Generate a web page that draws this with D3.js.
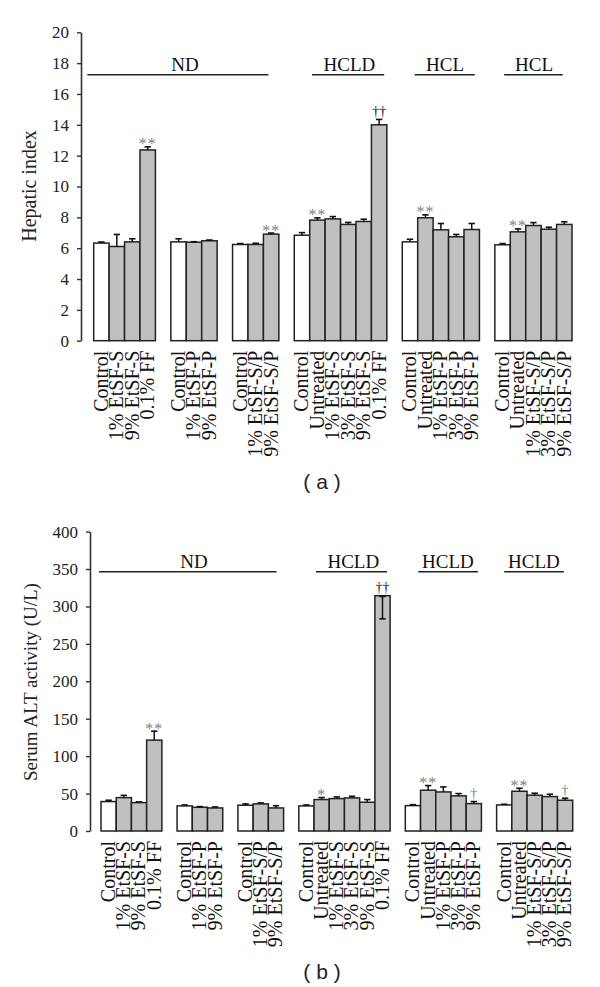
<!DOCTYPE html>
<html><head><meta charset="utf-8">
<script src="https://cdn.jsdelivr.net/npm/d3@7"></script>
<style>body{margin:0;background:#fff}svg{display:block}</style>
</head><body>
<svg id="c" width="600" height="987"></svg>
<script>
// ---------- data ----------
const groups = [
  ["Control","1% EtSF-S","9% EtSF-S","0.1% FF"],
  ["Control","1% EtSF-P","9% EtSF-P"],
  ["Control","1% EtSF-S/P","9% EtSF-S/P"],
  ["Control","Untreated","1% EtSF-S","3% EtSF-S","9% EtSF-S","0.1% FF"],
  ["Control","Untreated","1% EtSF-P","3% EtSF-P","9% EtSF-P"],
  ["Control","Untreated","1% EtSF-S/P","3% EtSF-S/P","9% EtSF-S/P"]
];
// (a) Hepatic index
const hepaticMean = [6.33,6.11,6.41,12.37, 6.41,6.39,6.48, 6.24,6.24,6.91, 6.84,7.82,7.90,7.54,7.73,14.0, 6.41,7.97,7.19,6.74,7.21, 6.22,7.06,7.47,7.23,7.54];
const hepaticErr  = [0.07,0.78,0.2,0.2, 0.2,0.03,0.05, 0.06,0.08,0.07, 0.17,0.15,0.15,0.13,0.15,0.35, 0.17,0.19,0.41,0.15,0.39, 0.08,0.19,0.19,0.13,0.17];
const hepaticSig  = ["","","","**", "","","", "","","**", "","**","","","","††", "","**","","","", "","**","","",""];
const hepaticTicks = [0,2,4,6,8,10,12,14,16,18,20];
const hepaticBrackets = [["ND",-0.41,11.32,5.92],["HCLD",14.15,18.83,16.57],["HCL",20.8,24.7,22.77],["HCL",26.6,30.4,28.54]];
// (b) Serum ALT activity (negative error = whisker drawn downward, as in the picture)
const altMean = [39.3,44.6,37.9,121.4, 33.5,31.7,30.8, 34.4,36.2,30.8, 33.5,42.0,43.3,44.2,38.4,314.4, 33.9,54.5,52.2,46.9,36.6, 34.8,53.1,47.8,46.0,41.1];
const altErr  = [1.8,3,1,12, 1.3,0.9,1.3, 1.8,1.3,3, 1.3,2.7,2.2,2.2,3.6,-31, 1.3,6.2,6.7,3.1,2.7, 0.9,4,2.7,3.1,2.7];
const altSig  = ["","","","**", "","","", "","","", "","*","","","","††", "","**","","","†", "","**","","","†"];
const altTicks = [0,50,100,150,200,250,300,350,400];
const altBrackets = [["ND",-0.13,11.54,6.11],["HCLD",14.13,18.79,16.58],["HCLD",20.85,24.77,22.8],["HCLD",26.5,30.42,28.45]];

// ---------- drawing ----------
const svg = d3.select("#c");
const SERIF = "'Liberation Serif','Times New Roman',serif";

// build slot list (one empty slot between groups)
const bars = [];
let slot = 0;
groups.forEach((g, gi) => {
  g.forEach((name, i) => bars.push({name, slot: slot + i, first: i === 0, gi}));
  slot += g.length + 1;
});
const nSlots = slot - 1; // 31

function panel(o) {
  const g = svg.append("g");
  const data = bars.map((b, i) => ({...b, v: o.mean[i], e: o.err[i], s: o.sig[i]}));
  const x = d3.scaleBand().domain(d3.range(nSlots)).range([o.x0, o.x1]).paddingInner(0).paddingOuter(0);
  const xs = d3.scaleLinear().domain([0, nSlots]).range([o.x0, o.x1]);
  const y = d3.scaleLinear().domain([0, o.ticks[o.ticks.length-1]]).range([o.yb, o.yt]);

  // axis
  const ax = g.append("g").attr("transform", `translate(${o.axisX},0)`)
    .call(d3.axisLeft(y).tickValues(o.ticks).tickSize(4).tickSizeOuter(0).tickPadding(8));
  ax.attr("font-family", SERIF).attr("font-size", 17);
  ax.select(".domain").attr("stroke", "#333").attr("stroke-width", 1.6);
  ax.selectAll(".tick line").attr("stroke", "#333").attr("stroke-width", 1.4);
  ax.selectAll(".tick text").attr("font-family", SERIF).attr("font-size", 17).attr("fill", "#222");

  // title
  g.append("text").attr("transform", `translate(${o.titleX},${o.titleY}) rotate(-90)`)
    .attr("text-anchor", "middle").attr("font-family", SERIF).attr("font-size", o.titleSize)
    .attr("fill", "#222").text(o.title);

  // bars
  g.selectAll("rect.bar").data(data).join("rect")
    .attr("x", d => x(d.slot)).attr("width", x.bandwidth())
    .attr("y", d => y(d.v)).attr("height", d => y(0) - y(d.v))
    .attr("fill", d => d.first ? "#fff" : "#c0c0c0")
    .attr("stroke", "#222").attr("stroke-width", 1.5);

  // error bars
  const cw = 3.2;
  data.forEach(d => {
    const cx = x(d.slot) + x.bandwidth()/2;
    const yv = y(d.v), ye = y(d.v + d.e);
    g.append("line").attr("x1", cx).attr("x2", cx).attr("y1", yv).attr("y2", ye)
      .attr("stroke", "#111").attr("stroke-width", 1.5);
    g.append("line").attr("x1", cx-cw).attr("x2", cx+cw).attr("y1", ye).attr("y2", ye)
      .attr("stroke", "#111").attr("stroke-width", 1.6);
    if (d.e < 0) {
      g.append("line").attr("x1", cx-cw).attr("x2", cx+cw).attr("y1", yv+0.8).attr("y2", yv+0.8)
        .attr("stroke", "#111").attr("stroke-width", 1.6);
    }
    if (d.s) {
      const top = Math.min(yv, ye);
      const dagger = d.s.includes("†");
      g.append("text").attr("x", cx).attr("y", dagger ? top - 3.5 : top + 2.5)
        .attr("text-anchor", "middle").attr("font-family", SERIF)
        .attr("font-size", dagger ? 14 : 16)
        .attr("letter-spacing", dagger ? 0 : 1)
        .attr("fill", d.s === "††" ? "#111" : "#808080").text(d.s);
    }
  });

  // category labels
  g.selectAll("text.cat").data(data).join("text")
    .attr("transform", d => `translate(${x(d.slot) + x.bandwidth()/2},${o.yb + 10}) rotate(-90)`)
    .attr("dy", "0.32em").attr("text-anchor", "end")
    .attr("font-family", SERIF).attr("font-size", 20).attr("fill", "#111").text(d => d.name);

  // brackets
  o.brackets.forEach(([lab, s0, s1, st]) => {
    g.append("line").attr("x1", xs(s0)).attr("x2", xs(s1)).attr("y1", o.brY).attr("y2", o.brY)
      .attr("stroke", "#222").attr("stroke-width", 1.6);
    g.append("text").attr("x", xs(st)).attr("y", o.brY - 4).attr("text-anchor", "middle")
      .attr("font-family", SERIF).attr("font-size", 19).attr("fill", "#111").text(lab);
  });

  // caption
  g.append("text").attr("x", 322).attr("y", o.capY).attr("text-anchor", "middle")
    .attr("font-family", "'Liberation Sans',Arial,sans-serif").attr("font-size", 21)
    .attr("fill", "#222").style("white-space", "pre").text(o.caption);
}

panel({mean: hepaticMean, err: hepaticErr, sig: hepaticSig, ticks: hepaticTicks,
  brackets: hepaticBrackets, x0: 93.7, x1: 572, yb: 340.7, yt: 32.3, axisX: 81,
  title: "Hepatic index", titleX: 36, titleY: 186, titleSize: 20, brY: 74.7, capY: 489, caption: "( a )"});

panel({mean: altMean, err: altErr, sig: altSig, ticks: altTicks,
  brackets: altBrackets, x0: 101, x1: 572.7, yb: 831, yt: 531.6, axisX: 90,
  title: "Serum ALT activity (U/L)", titleX: 37, titleY: 682, titleSize: 19, brY: 571.7, capY: 979, caption: "( b )"});
</script>
</body></html>
